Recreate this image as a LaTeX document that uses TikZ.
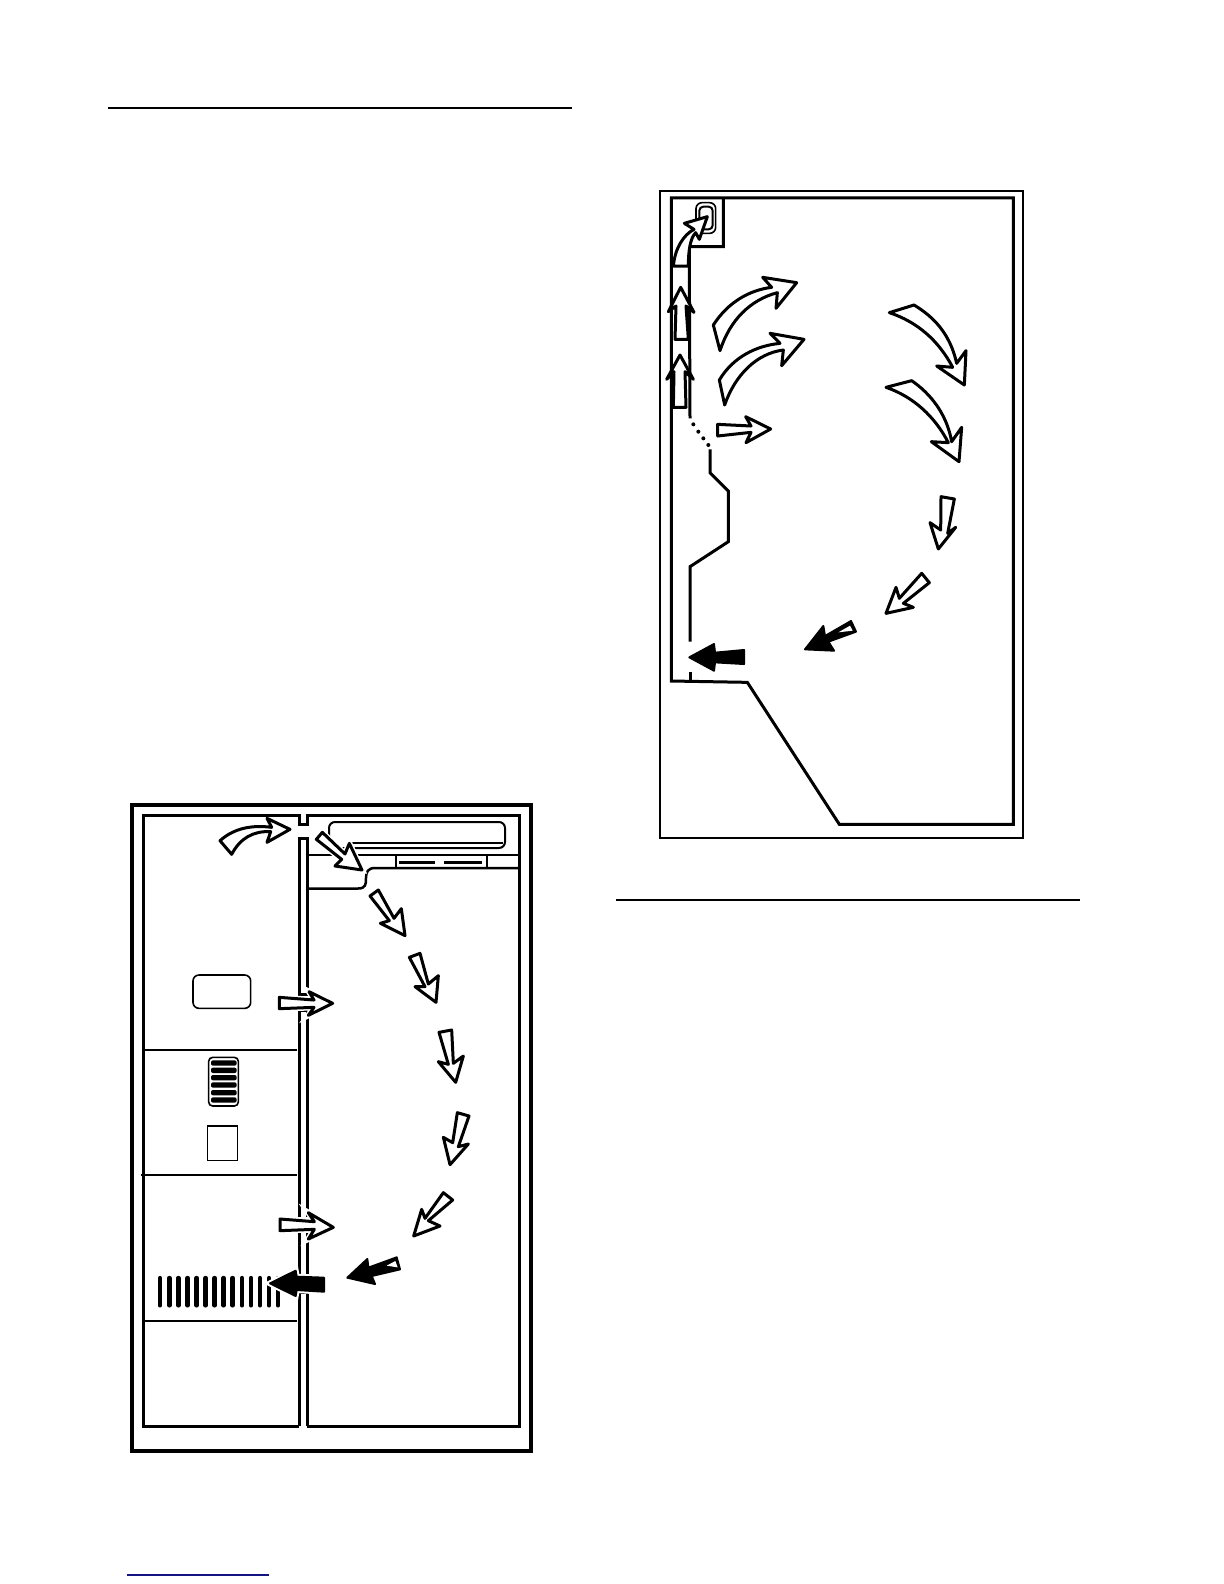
\documentclass[tikz,border=0pt]{standalone}
\tikzset{
  px/.style={x=0.5pt,y=-0.5pt},
  wallline/.style={draw=black,line width=1.5pt,line join=miter,line cap=butt},
  outerline/.style={draw=black,line width=1.6pt,line join=miter},
  thinline/.style={draw=black,line width=0.8pt},
  rulerline/.style={draw=black,line width=1pt},
  plainarrow/.style={draw=black,fill=white,line width=1.5pt,line join=round},
  hollowarrow/.style={plainarrow,preaction={draw=white,line width=3pt}},
  solidarrow/.style={draw=black,fill=black,line width=1pt,line join=round,preaction={draw=white,line width=3pt}},
  zoomA/.style={shift={(120,790)},x=0.16667pt,y=-0.16667pt},
  zoomB/.style={shift={(120,1000)},x=0.16667pt,y=-0.16667pt},
  zoomC/.style={shift={(100,1290)},x=0.16667pt,y=-0.16667pt},
  zoomD/.style={shift={(650,180)},x=0.16667pt,y=-0.16667pt},
  zoomE/.style={shift={(650,430)},x=0.16667pt,y=-0.16667pt},
  zoomF/.style={shift={(860,280)},x=0.16667pt,y=-0.16667pt},
}
\definecolor{linkblue}{RGB}{20,20,130}
\begin{document}
\begin{tikzpicture}[px]
\useasboundingbox (0,0) rectangle (1224,1584);
\fill[white] (0,0) rectangle (1224,1584);
% rules
\draw[rulerline] (108,108.5) -- (572,108.5);
\draw[rulerline] (616,899.5) -- (1080,899.5);
\draw[draw=linkblue,line width=0.8pt] (127,1575) -- (269,1575);

% ===== left cabinet =====
\draw[outerline] (132,805) rectangle (531,1451);
\draw[wallline] (299,1426) |- (143,1426) |- (299,815) -- (299,824) -- (307,824) -- (307,815) -| (519,1426) -| (307,1426);
\draw[wallline] (299,994) -- (299,838) -- (307,838) -- (307,994) -- cycle;
\draw[wallline] (299,1217) -- (299,1010) -- (307,1010) -- (307,1217);
\draw[wallline] (299,1233) -- (299,1277) -- (307,1277) -- (307,1233);
\draw[wallline] (299,1426) -- (299,1292) -- (307,1292) -- (307,1426);
% shelf and top panel
\draw[thinline,line width=1pt,rounded corners=3pt] (329,822) rectangle (505,848);
\draw[thinline,line width=1pt] (350,843) -- (503,843);
\draw[wallline,line width=1.25pt] (307,855) -- (519,855);
\draw[wallline,line width=1.25pt] (307,888.5) -- (358,888.5) .. controls (366,888.5) and (366,884) .. (366,878) .. controls (366,872) and (368,868) .. (375,868) -- (519,868);
\draw[thinline] (396,855) -- (396,868);
\draw[thinline] (487,855) -- (487,868);
\draw[wallline,line width=1.25pt] (399,862.7) -- (435,862.7);
\draw[wallline,line width=1.25pt] (444,862.7) -- (482,862.7);
% left compartment
\begin{scope}[zoomA]
\draw[thinline,rounded corners=3pt] (219,555) rectangle (392,655);
\end{scope}
\begin{scope}[zoomB]
\draw[thinline] (70,150) -- (532,150);
\draw[thinline] (62,525) -- (532,525);
\draw[thinline,rounded corners=2pt] (266,172) rectangle (355,318);
\foreach \yy in {189,211,233,255,278,300}
  \fill[black,rounded corners=1pt] (273,\yy-8) rectangle (350,\yy+8);
\draw[thinline] (263,378) rectangle (353,481);
\foreach \xx in {120,148,175,203,230,257,284,311,338,366,393,420,447,474}
  \draw[black,line width=2.2pt,line cap=round] (\xx,834) -- (\xx,916);
\end{scope}
\begin{scope}[zoomC]
\draw[thinline,line width=1pt] (130,92) -- (592,92);
\end{scope}
% left cabinet arrows
\begin{scope}[zoomA]
\draw[plainarrow] (300,152) .. controls (345,112) and (400,105) .. (455,112) -- (441,85) -- (510,118) -- (441,157) -- (452,125) .. controls (400,122) and (360,145) .. (335,193) -- cycle;
\draw[hollowarrow] (607,127) -- (675,192) -- (688,160) -- (726,240) -- (645,228) -- (665,208) -- (589,148) -- cycle;
\draw[hollowarrow] (775,300) -- (822,385) -- (844,356) -- (855,437) -- (781,400) -- (808,392) -- (750,318) -- cycle;
\draw[hollowarrow] (900,490) -- (925,582) -- (955,557) -- (948,637) -- (885,590) -- (915,590) -- (868,502) -- cycle;
\draw[hollowarrow] (478,622) -- (582,630) -- (567,605) -- (638,640) -- (565,676) -- (582,652) -- (478,656) -- cycle;
\end{scope}
\begin{scope}[zoomB]
\draw[hollowarrow] (957,97) -- (995,90) -- (1000,190) -- (1030,168) -- (1007,247) -- (955,185) -- (985,193) -- cycle;
\draw[hollowarrow] (1012,338) -- (1047,348) -- (1015,440) -- (1045,432) -- (990,494) -- (970,412) -- (998,428) -- cycle;
\draw[hollowarrow] (970,578) -- (998,600) -- (925,662) -- (960,678) -- (881,708) -- (905,628) -- (915,655) -- cycle;
\draw[hollowarrow] (480,657) -- (583,665) -- (565,638) -- (640,682) -- (565,717) -- (583,688) -- (480,692) -- cycle;
\draw[solidarrow] (830,772) -- (840,808) -- (755,828) -- (765,852) -- (682,833) -- (742,777) -- (745,803) -- cycle;
\fill[white] (800,797) -- (826,783) -- (833,802) -- cycle;
\draw[solidarrow] (612,833) -- (612,875) -- (530,870) -- (527,888) -- (450,850) -- (527,812) -- (530,830) -- cycle;
\end{scope}

% ===== right cabinet =====
\draw[outerline,line width=1.4pt] (660,191) rectangle (1023,838);
\begin{scope}[zoomE]
\draw[wallline] (64,753) -- (292,757) -- (568,1183) -- (1090,1183) -- (1090,-696) -- (64,-696) -- cycle;
\draw[wallline] (180,58) -- (180,128) -- (235,183) -- (235,335) -- (120,410) -- (120,635);
\draw[wallline] (120,725) -- (120,755);
\end{scope}
\begin{scope}[zoomD]
\draw[wallline] (220,55) -- (220,200) -- (118,200) -- (118,260) -- (120,715);
\draw[thinline] (70,260) -- (120,260);
\fill[black] (130,733) circle (1pt) (145,755) circle (1pt) (160,775) circle (1pt) (175,795) circle (1pt);
\draw[thinline,rounded corners=3pt] (138,68) rectangle (197,160);
\draw[wallline,line width=1pt,rounded corners=2pt] (148,80) rectangle (188,148);
\draw[plainarrow] (70,258) .. controls (75,205) and (100,165) .. (132,148) -- (103,130) -- (172,110) -- (148,178) -- (137,158) .. controls (120,175) and (115,215) .. (115,258) -- cycle;
\draw[plainarrow] (75,478) -- (78,378) -- (55,395) -- (92,322) -- (132,397) -- (108,378) -- (115,478) -- cycle;
\draw[plainarrow] (70,682) -- (72,575) -- (50,598) -- (90,525) -- (130,598) -- (105,575) -- (108,682) -- cycle;
\draw[hollowarrow] (190,435) .. controls (235,365) and (300,330) .. (365,322) -- (338,292) -- (440,308) -- (378,385) -- (382,338) .. controls (300,360) and (240,420) .. (210,512) -- cycle;
\draw[hollowarrow] (208,600) .. controls (250,530) and (320,497) .. (390,490) -- (360,460) -- (462,478) -- (395,557) -- (400,510) .. controls (320,520) and (255,585) .. (224,675) -- cycle;
\draw[hollowarrow] (203,733) -- (303,738) -- (287,710) -- (362,747) -- (288,788) -- (303,757) -- (203,768) -- cycle;
\end{scope}
\begin{scope}[zoomF]
\draw[hollowarrow] (88,98) -- (162,75) .. controls (220,110) and (270,160) .. (290,250) -- (318,212) -- (313,315) -- (230,258) -- (278,262) .. controls (235,180) and (170,125) .. cycle;
\draw[hollowarrow] (78,322) -- (155,302) .. controls (210,340) and (260,400) .. (275,485) -- (305,442) -- (297,545) -- (214,485) -- (265,488) .. controls (225,410) and (160,350) .. cycle;
\end{scope}
\begin{scope}[zoomE]
\draw[hollowarrow] (873,200) -- (913,207) -- (893,310) -- (917,292) -- (865,357) -- (840,278) -- (872,300) -- cycle;
\draw[hollowarrow] (815,430) -- (838,458) -- (760,520) -- (790,532) -- (708,550) -- (738,472) -- (748,505) -- cycle;
\draw[solidarrow] (603,573) -- (618,605) -- (535,635) -- (552,662) -- (465,658) -- (520,588) -- (525,618) -- cycle;
\fill[white] (565,607) -- (600,587) -- (608,602) -- cycle;
\draw[solidarrow] (282,660) -- (282,702) -- (195,697) -- (192,722) -- (118,682) -- (192,642) -- (195,668) -- cycle;
\end{scope}
\end{tikzpicture}
\end{document}
